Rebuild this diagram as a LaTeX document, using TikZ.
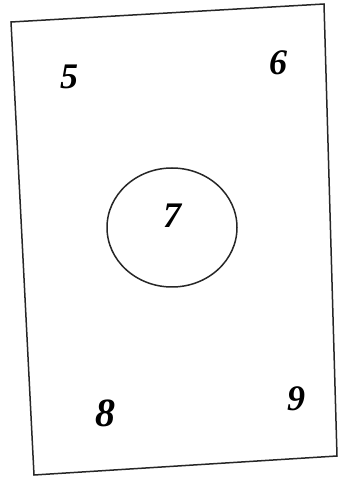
\documentclass[tikz,border=0pt]{standalone}
\usepackage{fontspec}
\setmainfont{Liberation Serif}
\usetikzlibrary{shapes.geometric}
\begin{document}
\begin{tikzpicture}[x=1pt,y=1pt,
  num/.style={inner sep=0pt,font=\fontsize{36}{40}\selectfont\bfseries\itshape},
  outline/.style={line width=1.5pt,draw=black!85}]
\useasboundingbox (0,0) rectangle (339,477);
\coordinate (tl) at (11,455);
\coordinate (tr) at (324,473);
\coordinate (br) at (337,21);
\coordinate (bl) at (34,2);
\draw[outline,line join=miter] (tl) -- (tr) -- (br) -- (bl) -- cycle;
\node[outline,ellipse,minimum width=130pt,minimum height=119pt,inner sep=0pt] (c) at (172,249.5) {};
\node[num] (n7) at (172,261) {7};
\node[num] (n5) at (69,400) {5};
\node[num] (n6) at (278,414) {6};
\node[num,font=\fontsize{40}{44}\selectfont\bfseries\itshape] (n8) at (105,64) {8};
\node[num] (n9) at (296,78) {9};
\end{tikzpicture}
\end{document}
